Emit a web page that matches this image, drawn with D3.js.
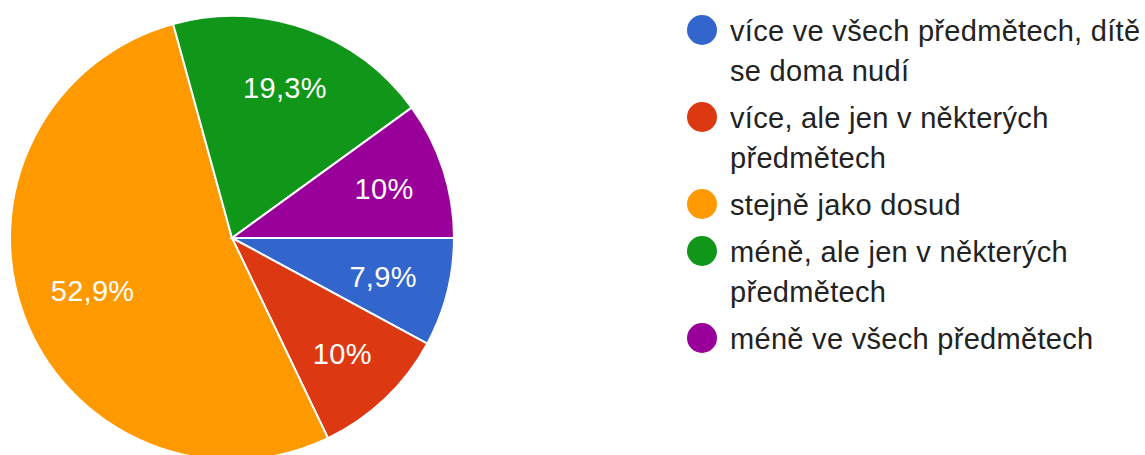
<!DOCTYPE html>
<html><head><meta charset="utf-8">
<script src="https://cdn.jsdelivr.net/npm/d3@7"></script>
<style>body{margin:0;background:#fff}svg{display:block}</style>
</head><body>
<svg id="c" width="1145" height="455"></svg>
<script>
const categories = ["více ve všech předmětech, dítě se doma nudí","více, ale jen v některých předmětech","stejně jako dosud","méně, ale jen v některých předmětech","méně ve všech předmětech"];
const legendLines = [["více ve všech předmětech, dítě","se doma nudí"],["více, ale jen v některých","předmětech"],["stejně jako dosud"],["méně, ale jen v některých","předmětech"],["méně ve všech předmětech"]];
const values = [7.9, 10, 52.9, 19.3, 10];
const labels = ["7,9%","10%","52,9%","19,3%","10%"];
const colors = ["#3366cc","#dc3912","#ff9900","#109618","#990099"];

const svg = d3.select("#c");
const cx = 232, cy = 238, r = 222;
const font = "'Liberation Sans', Arial, sans-serif";
const pie = d3.pie().sort(null).startAngle(Math.PI/2).endAngle(Math.PI/2 + 2*Math.PI)(values);
const arc = d3.arc().innerRadius(0).outerRadius(r);
const g = svg.append("g").attr("transform",`translate(${cx},${cy})`);
g.selectAll("path").data(pie).join("path").attr("d",arc).attr("fill",(d,i)=>colors[i]).attr("stroke","#fff").attr("stroke-width",2);
const maxDist = 0.865 * r;
g.selectAll("text").data(pie).join("text")
  .attr("text-anchor","middle").attr("dy","0.36em")
  .attr("font-family",font).attr("font-size",29).attr("letter-spacing",0.3).attr("fill","#fff")
  .text((d,i)=>labels[i])
  .each(function(d){
    const el = d3.select(this);
    const bb = this.getBBox();
    const w = bb.width/2, h = 10.5;
    let lr = 0.72 * r;
    for (let k=0;k<100;k++){
      const c = d3.arc().innerRadius(lr).outerRadius(lr).centroid(d);
      const far = Math.max(...[[-w,-h],[w,-h],[-w,h],[w,h]].map(([a,b])=>Math.hypot(c[0]+a,c[1]+b)));
      if (far <= maxDist) break;
      lr -= 1;
    }
    el.attr("transform",`translate(${d3.arc().innerRadius(lr).outerRadius(lr).centroid(d)})`);
  });

const lg = svg.append("g").attr("font-family",font).attr("font-size",29).attr("letter-spacing",0.3).attr("fill","#222");
let y = 30;
legendLines.forEach((lines,i)=>{
  lg.append("circle").attr("cx",702).attr("cy",y).attr("r",15).attr("fill",colors[i]);
  lines.forEach((t,j)=>{
    lg.append("text").attr("x",730).attr("y",y + 11 + j*40).text(t);
  });
  y += (lines.length-1)*40 + 47;
});
</script>
</body></html>
